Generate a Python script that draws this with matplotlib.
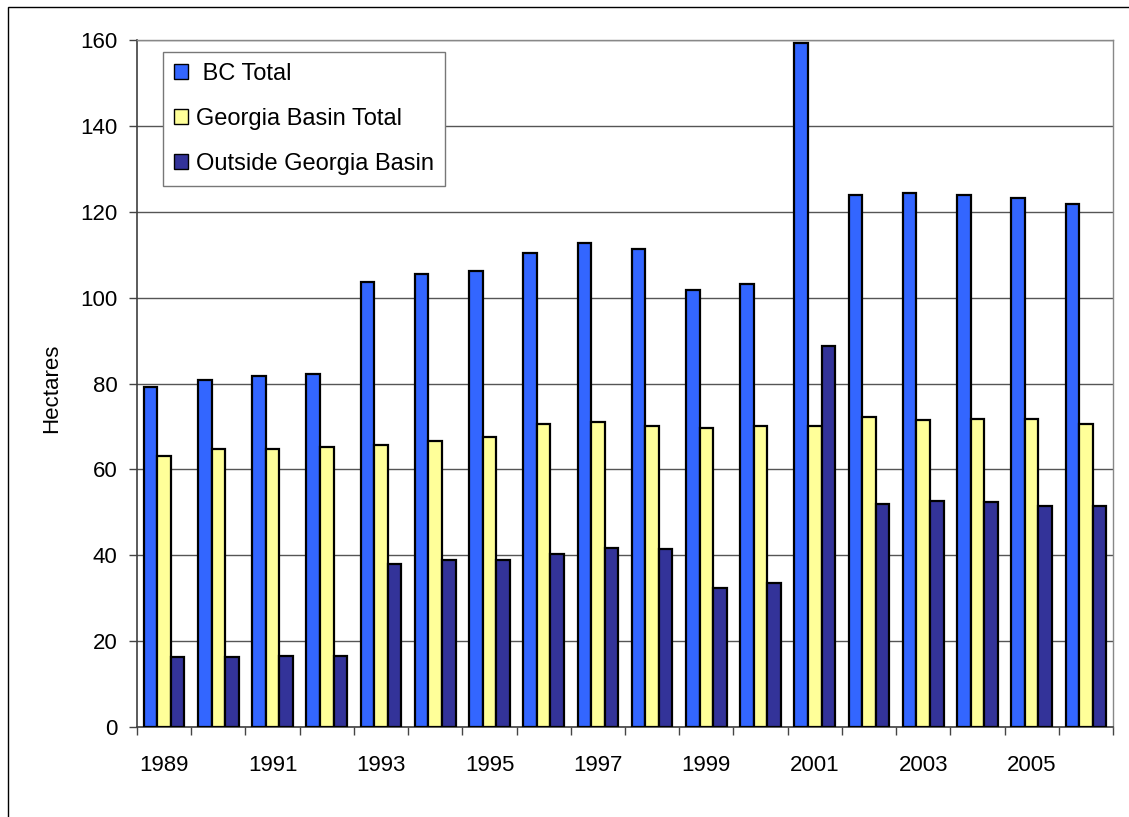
import numpy as np
import matplotlib.pyplot as plt
import matplotlib.patches as mpatches

plt.rcParams['font.family'] = 'Liberation Sans'

years = list(range(1989, 2007))
bc_total = [79.2, 80.9, 81.8, 82.2, 103.6, 105.4, 106.2, 110.5, 112.7, 111.3,
            101.8, 103.1, 159.2, 124.0, 124.4, 124.0, 123.1, 121.9]
gb_total = [63.1, 64.8, 64.8, 65.2, 65.7, 66.7, 67.5, 70.6, 71.0, 70.0,
            69.6, 70.0, 70.0, 72.2, 71.4, 71.8, 71.8, 70.5]
outside_gb = [16.2, 16.2, 16.6, 16.6, 38.0, 38.8, 38.8, 40.2, 41.8, 41.4,
              32.3, 33.6, 88.7, 51.9, 52.7, 52.3, 51.5, 51.5]

series_names = [' BC Total', 'Georgia Basin Total', 'Outside Georgia Basin']
series_colors = ['#3366FF', '#FFFF99', '#333399']

W, H = 1129, 817
fig = plt.figure(figsize=(W / 100, H / 100), dpi=100)
ax = fig.add_axes([137 / W, 1 - 727 / H, 976 / W, 687 / H])

x = np.arange(len(years))
bw = 0.25
for i, (vals, col) in enumerate(zip([bc_total, gb_total, outside_gb], series_colors)):
    ax.bar(x + (i - 1) * bw, vals, width=bw, color=col, edgecolor='black',
           linewidth=1.6, zorder=3)

ax.set_xlim(-0.5, len(years) - 0.5)
ax.set_ylim(0, 160)
ax.set_yticks(range(0, 161, 20))
ax.yaxis.grid(True, color='#555555', linewidth=1)
ax.set_axisbelow(True)

# labels every other year, tick marks between categories
ax.set_xticks(x[::2])
ax.set_xticklabels([str(y) for y in years[::2]])
ax.set_xticks(np.arange(-0.5, len(years), 1), minor=True)
ax.tick_params(axis='x', which='major', length=0, pad=20, labelsize=16)
ax.tick_params(axis='x', which='minor', length=6, width=1, color='#444444', direction='out')
ax.tick_params(axis='y', length=6, width=1, color='#444444', pad=8, labelsize=16)

for s in ['left', 'bottom']:
    ax.spines[s].set_color('#404040')
    ax.spines[s].set_linewidth(1.2)
for s in ['top', 'right']:
    ax.spines[s].set_color('#888888')
    ax.spines[s].set_linewidth(1)

fig.text(52 / W, 1 - 388 / H, 'Hectares', rotation=90, ha='center', va='center', fontsize=16)

handles = [mpatches.Patch(facecolor=c, edgecolor='black', linewidth=1, label=n)
           for c, n in zip(series_colors, series_names)]
leg = ax.legend(handles=handles, loc='upper left', bbox_to_anchor=(0.0266, 0.9825),
                fontsize=17, frameon=True, fancybox=False, framealpha=1,
                edgecolor='#777777', handlelength=0.6, handleheight=0.6,
                handletextpad=0.35, labelspacing=0.98, borderpad=0.45, borderaxespad=0)
leg.get_frame().set_linewidth(1)

# outer chart border
fig.patches.append(mpatches.Rectangle((8 / W, -0.1), 1.2, 1 - 7 / H + 0.1, fill=False,
                                      edgecolor='black', linewidth=1, transform=fig.transFigure))

fig.savefig('out.png', dpi=100)
